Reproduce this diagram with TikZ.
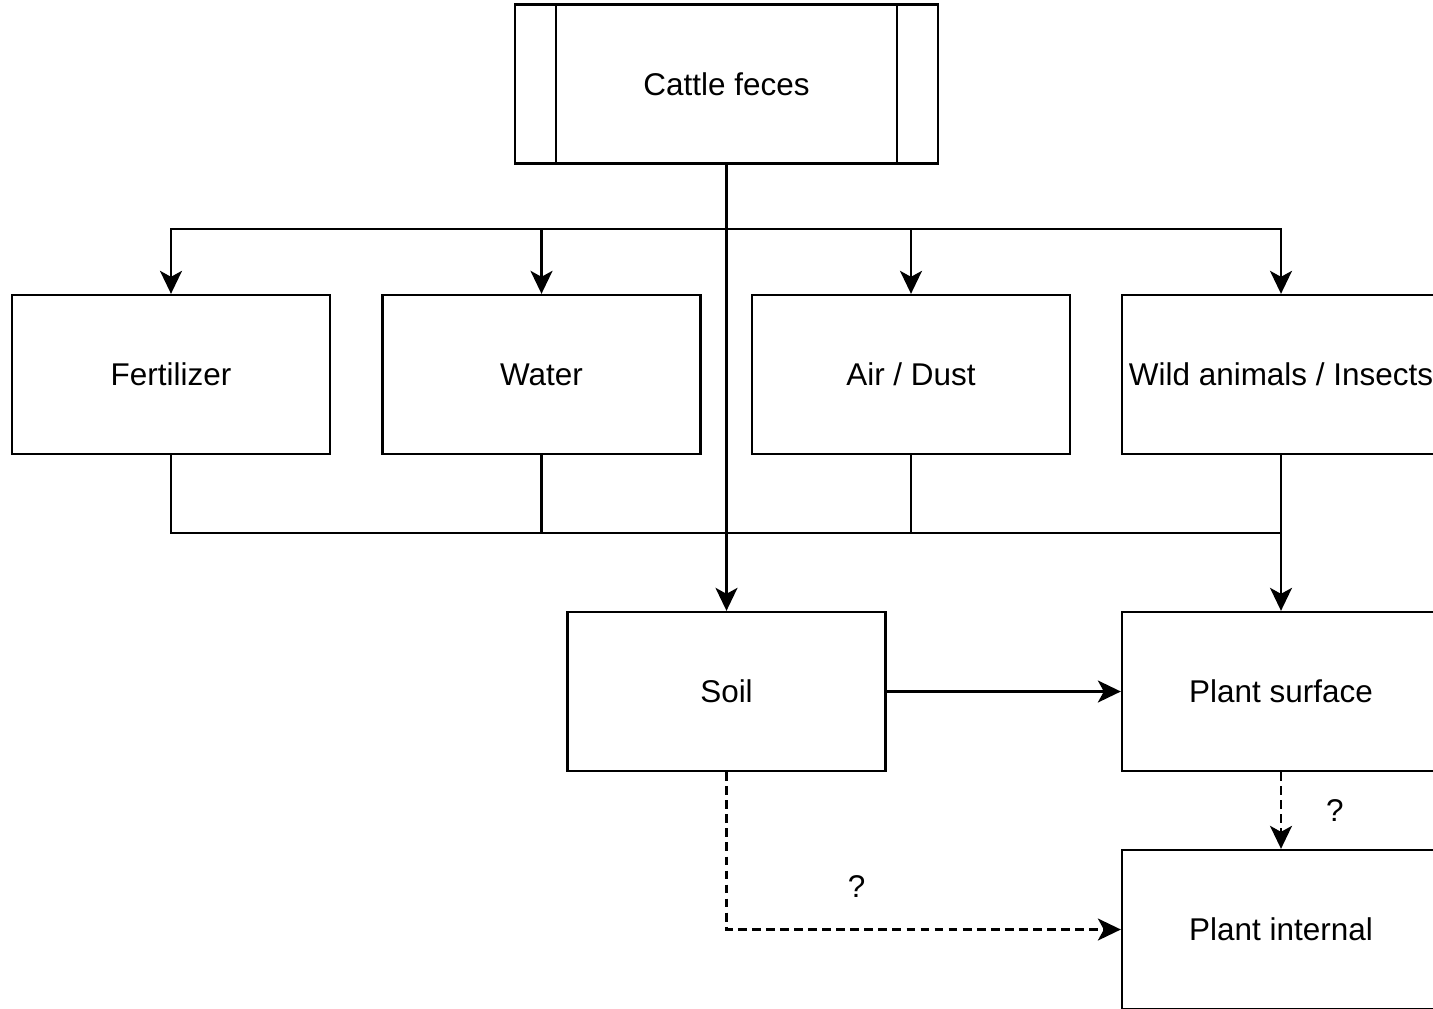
\documentclass[tikz,border=0pt]{standalone}
\usepackage{fontspec}
\setmainfont{Liberation Sans}
\usepackage{tikz}
\usetikzlibrary{positioning, arrows.meta}

\begin{document}
\begin{tikzpicture}[
    x=0.02cm, y=-0.02cm,
    font=\fontsize{17.9}{21}\selectfont,
    line width=1.35pt,
    box/.style={draw, rectangle, inner sep=0pt, minimum width=6.36cm, minimum height=3.18cm},
    arr/.style={-{Stealth[length=0.46cm, width=0.44cm, inset=0.12cm]}},
    qmark/.style={inner sep=0pt}
]

% Frame of the picture
\useasboundingbox (0,0) rectangle (1433,1008);
\clip (0,0) rectangle (1433,1008);

% Source
\node[box, minimum width=8.46cm] (cattle) at (726.5,84) {Cattle feces};
\draw ([xshift=0.84cm]cattle.north west) -- ([xshift=0.84cm]cattle.south west);
\draw ([xshift=-0.84cm]cattle.north east) -- ([xshift=-0.84cm]cattle.south east);

% Transmission routes
\node[box] (fert)  at (171,374.5)  {Fertilizer};
\node[box] (water) at (541.5,374.5) {Water};
\node[box] (air)   at (911,374.5)  {Air / Dust};
\node[box] (wild)  at (1281,374.5) {Wild animals / Insects};

% Targets
\node[box] (soil)     at (726.5,691.5) {Soil};
\node[box] (surface)  at (1281,691.5)  {Plant surface};
\node[box] (internal) at (1281,929.5)  {Plant internal};

% Split below the source
\coordinate (split) at (726.5,229);
\draw (cattle.south) -- (split);
\draw[arr] (split) -| (fert.north);
\draw[arr] (split) -| (water.north);
\draw[arr] (split) -| (air.north);
\draw[arr] (split) -| (wild.north);
\draw[arr] (split) -- (soil.north);

% Merge towards the plant surface
\coordinate (merge) at (1281,533);
\draw (fert.south) |- (merge);
\draw (water.south) |- (merge);
\draw (air.south) |- (merge);
\draw[arr] (wild.south) -- (surface.north);

\draw[arr] (soil) -- (surface);

% Uncertain routes
\draw[arr, dash pattern=on 5pt off 3pt] (surface.south) -- (internal.north)
    node[qmark, midway, right=0.88cm] (q1) {?};
\draw[arr, dash pattern=on 5pt off 3pt] (soil.south) |- (internal.west)
    node[qmark, pos=0.665, above=0.62cm] (q2) {?};

\end{tikzpicture}
\end{document}
